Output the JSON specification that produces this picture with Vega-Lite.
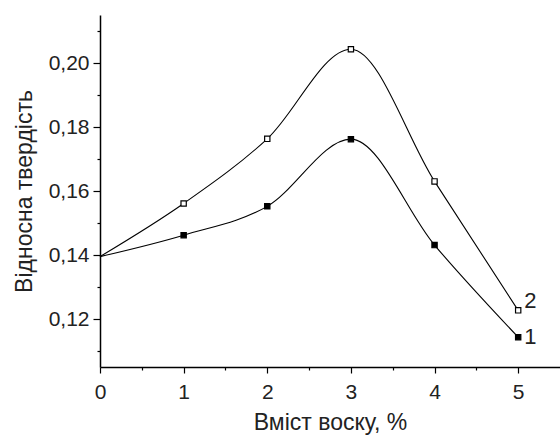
{
  "$schema": "https://vega.github.io/schema/vega-lite/v6.json",
  "width": 460,
  "height": 352,
  "autosize": {"type": "none"},
  "padding": {"left": 100, "top": 15, "right": 0, "bottom": 70},
  "background": "white",
  "config": {
    "view": {"stroke": null},
    "font": "Liberation Sans",
    "axis": {
      "domainColor": "black",
      "domainWidth": 1.5,
      "tickColor": "black",
      "tickWidth": 1.2,
      "labelColor": "#222",
      "titleColor": "#222",
      "labelFont": "Liberation Sans",
      "titleFont": "Liberation Sans",
      "labelFontSize": 21,
      "titleFontSize": 23,
      "titleFontWeight": "normal",
      "grid": false
    }
  },
  "data": {
    "values": [
      {"x": 0, "y": 0.1395, "series": "1"},
      {"x": 1, "y": 0.1462, "series": "1"},
      {"x": 2, "y": 0.1552, "series": "1"},
      {"x": 3, "y": 0.1762, "series": "1"},
      {"x": 4, "y": 0.1431, "series": "1"},
      {"x": 5, "y": 0.1143, "series": "1"},
      {"x": 0, "y": 0.1395, "series": "2"},
      {"x": 1, "y": 0.1561, "series": "2"},
      {"x": 2, "y": 0.1763, "series": "2"},
      {"x": 3, "y": 0.2043, "series": "2"},
      {"x": 4, "y": 0.163, "series": "2"},
      {"x": 5, "y": 0.1227, "series": "2"}
    ]
  },
  "encoding": {
    "x": {
      "field": "x",
      "type": "quantitative",
      "scale": {"domain": [0, 5.5], "nice": false, "zero": false},
      "axis": {
        "title": "Вміст воску, %",
        "values": [0, 0.5, 1, 1.5, 2, 2.5, 3, 3.5, 4, 4.5, 5],
        "labelExpr": "datum.value % 1 === 0 ? format(datum.value, 'd') : ''",
        "tickSize": {"condition": {"test": "datum.value % 1 === 0", "value": 6}, "value": 3},
        "labelPadding": 8,
        "titlePadding": 9,
        "labelFlush": false
      }
    },
    "y": {
      "field": "y",
      "type": "quantitative",
      "scale": {"domain": [0.105, 0.215], "nice": false, "zero": false},
      "axis": {
        "title": "Відносна твердість",
        "values": [0.11, 0.12, 0.13, 0.14, 0.15, 0.16, 0.17, 0.18, 0.19, 0.2, 0.21],
        "labelExpr": "round(datum.value*100) % 2 === 0 ? replace(format(datum.value, '.2f'), '.', ',') : ''",
        "tickSize": {"condition": {"test": "round(datum.value*100) % 2 === 0", "value": 7}, "value": 3},
        "labelPadding": 4,
        "titlePadding": 12,
        "labelFlush": false
      }
    }
  },
  "layer": [
    {
      "mark": {"type": "line", "interpolate": "monotone", "color": "black", "strokeWidth": 1.1},
      "encoding": {"detail": {"field": "series"}}
    },
    {
      "transform": [{"filter": "datum.x > 0"}],
      "mark": {"type": "point", "shape": "square", "size": 28, "stroke": "black", "strokeWidth": 1.2, "opacity": 1},
      "encoding": {
        "fill": {
          "field": "series",
          "type": "nominal",
          "scale": {"domain": ["1", "2"], "range": ["black", "white"]},
          "legend": null
        }
      }
    },
    {
      "transform": [{"filter": "datum.x === 5 && datum.series === '2'"}],
      "mark": {"type": "text", "align": "left", "dx": 6, "dy": -9, "fontSize": 22, "color": "#222", "font": "Liberation Sans"},
      "encoding": {"text": {"field": "series"}}
    },
    {
      "transform": [{"filter": "datum.x === 5 && datum.series === '1'"}],
      "mark": {"type": "text", "align": "left", "dx": 6, "dy": 0, "fontSize": 22, "color": "#222", "font": "Liberation Sans"},
      "encoding": {"text": {"field": "series"}}
    }
  ]
}
